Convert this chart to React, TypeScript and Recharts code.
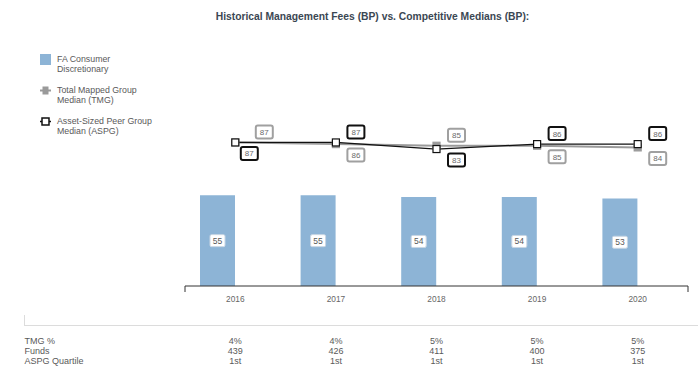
import { Bar, ComposedChart, LabelList, Legend, Line, XAxis, YAxis, usePlotArea } from 'recharts'

const YEARS = ['2016', '2017', '2018', '2019', '2020']
const FA_FEES = [55, 55, 54, 54, 53]
const TMG_MEDIAN = [87, 86, 85, 85, 84]
const ASPG_MEDIAN = [87, 87, 83, 86, 86]
const TMG_PCT = ['4%', '4%', '5%', '5%', '5%']
const FUNDS = ['439', '426', '411', '400', '375']
const ASPG_QUARTILE = ['1st', '1st', '1st', '1st', '1st']

const ROWS = [
  { label: 'TMG %', values: TMG_PCT },
  { label: 'Funds', values: FUNDS },
  { label: 'ASPG Quartile', values: ASPG_QUARTILE },
]

const FONT = '"Liberation Sans", Arial, sans-serif'
const BAR_COLOR = '#8db4d6'
const TMG_COLOR = '#9a9a9a'
const ASPG_COLOR = '#111111'
const TEXT = '#595959'

const data = YEARS.map((year, i) => ({
  year,
  fa: FA_FEES[i],
  tmg: TMG_MEDIAN[i],
  aspg: ASPG_MEDIAN[i],
}))

const ROW_Y = [343.5, 353.5, 363.5]

function YearTick({ x, payload }: any) {
  const i = payload.index
  return (
    <g fontFamily={FONT}>
      <text x={x} y={302} textAnchor="middle" fontSize={8.3} fill="#666">
        {payload.value}
      </text>
      {ROWS.map((row, r) => (
        <text key={row.label} x={x} y={ROW_Y[r]} textAnchor="middle" fontSize={9} fill={TEXT}>
          {row.values[i]}
        </text>
      ))}
    </g>
  )
}

// end ticks of the axis, the table rule and row labels
function Extras() {
  const plot = usePlotArea()
  if (!plot) return null
  const bottom = plot.y + plot.height
  const right = plot.x + plot.width
  return (
    <g fontFamily={FONT}>
      <line x1={plot.x} x2={plot.x} y1={bottom} y2={bottom + 6} stroke="#333" />
      <line x1={right} x2={right} y1={bottom} y2={bottom + 6} stroke="#333" />
      <line x1={24} x2={698} y1={325.5} y2={325.5} stroke="#dcdcdc" />
      <line x1={24.5} x2={24.5} y1={315} y2={325.5} stroke="#dcdcdc" />
      {ROWS.map((row, r) => (
        <text key={row.label} x={24.5} y={ROW_Y[r]} fontSize={9} fill={TEXT}>
          {row.label}
        </text>
      ))}
    </g>
  )
}

function BarValue({ x, y, width, height, value }: any) {
  const cx = x + width / 2
  const cy = y + height / 2
  return (
    <g>
      <rect x={cx - 7.5} y={cy - 6} width={15} height={12} rx={1.5} fill="#fff" stroke="#c8d6e4" />
      <text x={cx} y={cy + 3} textAnchor="middle" fontSize={8.5} fontFamily={FONT} fill={TEXT}>
        {value}
      </text>
    </g>
  )
}

function makeLineLabel(own: number[], other: number[], isTmg: boolean, color: string) {
  return function LineLabel({ x, y, value, index }: any) {
    const tie = own[index] === other[index]
    const above = tie ? isTmg : own[index] > other[index]
    const dx = tie ? (isTmg ? 29 : 14) : 20
    const cx = x + dx
    const cy = above ? y - 10.5 : y + 11
    return (
      <g>
        <rect x={cx - 8.5} y={cy - 6.5} width={17} height={13} rx={2} fill="#fff" stroke={color} strokeWidth={2} />
        <text x={cx} y={cy + 3} textAnchor="middle" fontSize={8} fontFamily={FONT} fill="#6b6b6b">
          {value}
        </text>
      </g>
    )
  }
}

function SquareDot({ cx, cy, fill, stroke }: any) {
  return <rect x={cx - 3.5} y={cy - 3.5} width={7} height={7} fill={fill} stroke={stroke} strokeWidth={1.2} />
}

function LegendBox() {
  const item = (icon: any, lines: string[]) => (
    <div style={{ display: 'flex', alignItems: 'flex-start', marginBottom: 10.2 }}>
      <div style={{ width: 17, height: 11, flex: 'none' }}>{icon}</div>
      <div style={{ lineHeight: '10.4px', whiteSpace: 'nowrap' }}>
        {lines.map((l) => (
          <div key={l}>{l}</div>
        ))}
      </div>
    </div>
  )
  return (
    <div style={{ fontFamily: FONT, fontSize: 8.8, color: TEXT }}>
      {item(<div style={{ width: 11, height: 11, background: BAR_COLOR }} />, ['FA Consumer', 'Discretionary'])}
      {item(
        <svg width={11} height={11}>
          <line x1={0} x2={11} y1={5.5} y2={5.5} stroke={TMG_COLOR} strokeWidth={2} />
          <rect x={2.5} y={1.5} width={6} height={8} fill={TMG_COLOR} />
        </svg>,
        ['Total Mapped Group', 'Median (TMG)'],
      )}
      {item(
        <svg width={11} height={11}>
          <line x1={0} x2={11} y1={5.5} y2={5.5} stroke={ASPG_COLOR} strokeWidth={1.5} />
          <rect x={2} y={2} width={7} height={7} fill="#fff" stroke={ASPG_COLOR} strokeWidth={1.5} />
        </svg>,
        ['Asset-Sized Peer Group', 'Median (ASPG)'],
      )}
    </div>
  )
}

export default function App() {
  return (
    <div style={{ position: 'absolute', left: 0, top: 0, width: 698, height: 375, background: '#fff' }}>
      <div
        style={{
          position: 'absolute',
          left: 0,
          width: 745,
          top: 10.5,
          textAlign: 'center',
          fontFamily: FONT,
          fontWeight: 'bold',
          fontSize: 10.3,
          color: '#3b4753',
        }}
      >
        Historical Management Fees (BP) vs. Competitive Medians (BP):
      </div>
      <ComposedChart
        width={698}
        height={375}
        data={data}
        margin={{ top: 121, right: 10, bottom: 59, left: 185 }}
        barSize={35}
        barGap={0}
      >
        <XAxis
          dataKey="year"
          height={30}
          axisLine={{ stroke: '#333' }}
          tickLine={false}
          interval={0}
          tick={<YearTick />}
        />
        <YAxis hide domain={[0, 100]} />
        <Legend
          layout="horizontal"
          align="center"
          verticalAlign="middle"
          wrapperStyle={{ left: 40, top: 54, width: 140 }}
          content={<LegendBox />}
        />
        <Bar dataKey="fa" fill={BAR_COLOR} isAnimationActive={false}>
          <LabelList dataKey="fa" content={<BarValue />} />
        </Bar>
        <Bar dataKey={() => null} fill="transparent" legendType="none" isAnimationActive={false} />
        <Line
          dataKey="tmg"
          stroke={TMG_COLOR}
          strokeWidth={2}
          dot={<SquareDot fill={TMG_COLOR} stroke={TMG_COLOR} />}
          isAnimationActive={false}
        >
          <LabelList dataKey="tmg" content={makeLineLabel(TMG_MEDIAN, ASPG_MEDIAN, true, '#a0a0a0')} />
        </Line>
        <Line
          dataKey="aspg"
          stroke={ASPG_COLOR}
          strokeWidth={1.2}
          dot={<SquareDot fill="#fff" stroke={ASPG_COLOR} />}
          isAnimationActive={false}
        >
          <LabelList dataKey="aspg" content={makeLineLabel(ASPG_MEDIAN, TMG_MEDIAN, false, ASPG_COLOR)} />
        </Line>
        <Extras />
      </ComposedChart>
    </div>
  )
}
